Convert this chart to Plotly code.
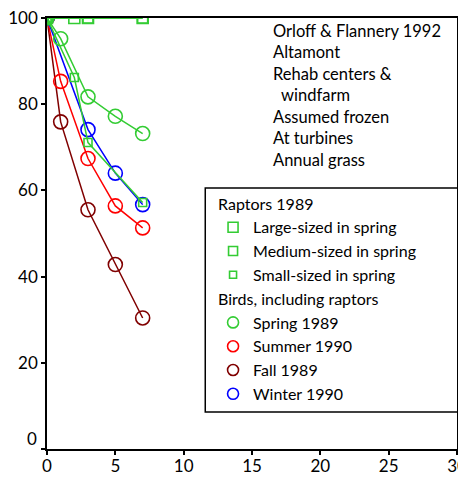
import plotly.graph_objects as go

# ---- data ----
x_large = [0, 2, 3, 7]
y_large = [100, 100, 100, 100]
x_medium = [0, 3, 7]
y_medium = [100, 100, 100]
x_small = [0, 2, 3, 7]
y_small = [100, 86.2, 71.1, 57.2]

x_spring = [0, 1, 3, 5, 7]
y_spring = [100, 95.2, 81.7, 77.2, 73.2]
x_summer = [0, 1, 3, 5, 7]
y_summer = [100, 85.3, 67.4, 56.4, 51.3]
x_fall = [0, 1, 3, 5, 7]
y_fall = [100, 75.9, 55.5, 42.8, 30.4]
x_winter = [0, 3, 5, 7]
y_winter = [100, 74.1, 64.0, 56.7]

x_ticks = [0, 5, 10, 15, 20, 25, 30]
y_ticks = [0, 20, 40, 60, 80, 100]

note_lines = ["Orloff & Flannery 1992", "Altamont", "Rehab centers &",
              "\u00a0\u00a0windfarm", "Assumed frozen", "At turbines", "Annual grass"]

GREEN = "#33cc33"
RED = "#ff0000"
DARKRED = "#800000"
BLUE = "#0000ff"
FONT = "Lato"
LEG = 16
NOTE = 16.5

fig = go.Figure()

def add_series(x, y, color, symbol, size, lw=1.5):
    fig.add_trace(go.Scatter(
        x=x, y=y, mode="lines+markers", showlegend=False,
        line=dict(color=color, width=lw),
        marker=dict(symbol=symbol, size=size, color=color, line=dict(color=color, width=1.6)),
        hoverinfo="skip"))

add_series(x_fall, y_fall, DARKRED, "circle-open", 14)
add_series(x_summer, y_summer, RED, "circle-open", 14)
add_series(x_winter, y_winter, BLUE, "circle-open", 14)
add_series(x_spring, y_spring, GREEN, "circle-open", 14)
add_series(x_small, y_small, GREEN, "square-open", 8)
add_series(x_medium, y_medium, GREEN, "square-open", 10)
add_series(x_large, y_large, GREEN, "square-open", 11, lw=2)

# legend-only entries (markers only, as in the reference)
def add_legend(name, color, symbol, size, group, title=None):
    kw = {}
    if title:
        kw["legendgrouptitle"] = dict(text=title, font=dict(family=FONT, size=LEG, color="black"))
    fig.add_trace(go.Scatter(
        x=[None], y=[None], mode="markers", name=name, legendgroup=group,
        marker=dict(symbol=symbol, size=size, color=color, line=dict(color=color, width=1.6)),
        **kw))

add_legend("Large-sized in spring", GREEN, "square-open", 10, "r", "Raptors 1989")
add_legend("Medium-sized in spring", GREEN, "square-open", 9, "r")
add_legend("Small-sized in spring", GREEN, "square-open", 7, "r")
add_legend("Spring 1989", GREEN, "circle-open", 11, "b", "Birds, including raptors")
add_legend("Summer 1990", RED, "circle-open", 11, "b")
add_legend("Fall 1989", DARKRED, "circle-open", 11, "b")
add_legend("Winter 1990", BLUE, "circle-open", 11, "b")

axis_common = dict(showline=True, linecolor="black", linewidth=1.5, mirror=True,
                   showgrid=False, zeroline=False, ticks="outside", ticklen=4,
                   tickcolor="black", tickwidth=1.5, automargin=False,
                   ticklabeloverflow="allow",
                   tickfont=dict(family=FONT, size=17, color="black"))

fig.update_xaxes(range=[0, 30], tickvals=x_ticks, ticktext=[str(v) for v in x_ticks],
                 ticklabelstandoff=-3, **axis_common)
fig.update_yaxes(range=[0, 100], tickvals=y_ticks,
                 ticktext=["" if v == 0 else str(v) for v in y_ticks],
                 **axis_common)

fig.add_annotation(text="0", xref="paper", yref="y", x=0, y=0, xanchor="right",
                   yanchor="middle", xshift=-8, yshift=11, showarrow=False,
                   font=dict(family=FONT, size=17, color="black"))

fig.add_annotation(text="<br>".join(note_lines), xref="paper", yref="paper",
                   x=0.546, y=0.997, xanchor="left", yanchor="top", align="left",
                   showarrow=False, font=dict(family=FONT, size=NOTE, color="black"))

# legend box
fig.add_shape(type="rect", xref="paper", yref="paper", x0=0.386, x1=1.004,
              y0=0.086, y1=0.6056, line=dict(color="black", width=1.5))

# the page body adds an 8px offset, so margins compensate for it
fig.update_layout(
    width=466, height=477,
    margin=dict(l=39, r=17, t=10, b=36),
    paper_bgcolor="white", plot_bgcolor="white",
    font=dict(family=FONT, size=LEG, color="black"),
    legend=dict(x=0.405, y=0.609, xanchor="left", yanchor="top",
                bgcolor="rgba(0,0,0,0)", borderwidth=0, tracegroupgap=0,
                font=dict(family=FONT, size=LEG, color="black"), itemwidth=30),
)

fig.write_html("out.html")
